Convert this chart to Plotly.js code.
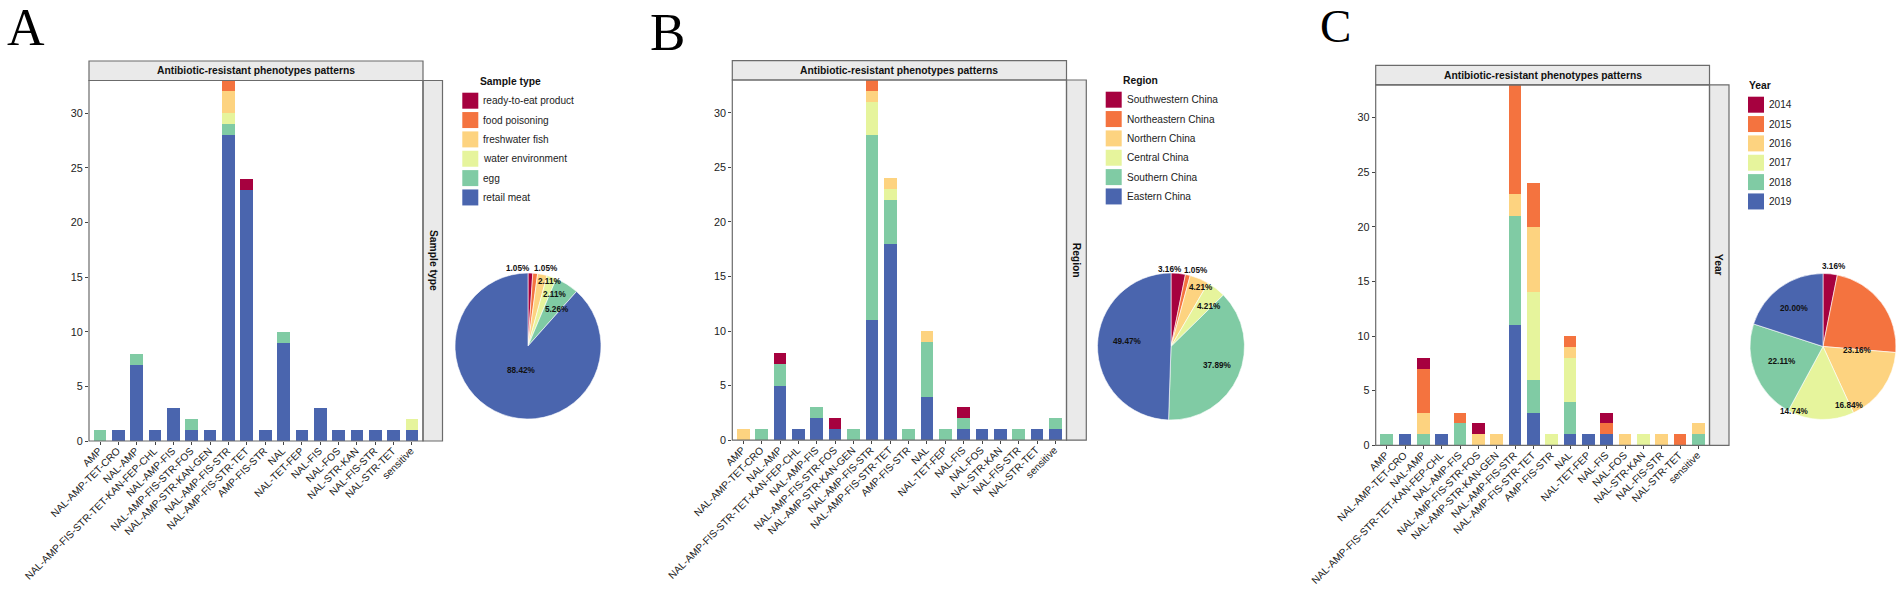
<!DOCTYPE html>
<html><head><meta charset="utf-8">
<script src="https://cdn.plot.ly/plotly-3.0.1.min.js"></script>
<style>html,body{margin:0;padding:0;background:#fff;overflow:hidden}#c{width:1902px;height:593px}</style>
</head><body><div id="c"></div>
<script>
// ---------- DATA ----------
const categories = ["AMP","NAL-AMP-TET-CRO","NAL-AMP","NAL-AMP-FIS-STR-TET-KAN-FEP-CHL","NAL-AMP-FIS","NAL-AMP-FIS-STR-FOS","NAL-AMP-STR-KAN-GEN","NAL-AMP-FIS-STR","NAL-AMP-FIS-STR-TET","AMP-FIS-STR","NAL","NAL-TET-FEP","NAL-FIS","NAL-FOS","NAL-STR-KAN","NAL-FIS-STR","NAL-STR-TET","sensitive"];
const yTicks = [0,5,10,15,20,25,30];

const sampleNames = ["ready-to-eat product","food poisoning","freshwater fish","water environment","egg","retail meat"];
const readyToEat   = [0,0,0,0,0,0,0,0,1,0,0,0,0,0,0,0,0,0];
const foodPoison   = [0,0,0,0,0,0,0,1,0,0,0,0,0,0,0,0,0,0];
const freshFish    = [0,0,0,0,0,0,0,2,0,0,0,0,0,0,0,0,0,0];
const waterEnv     = [0,0,0,0,0,0,0,1,0,0,0,0,0,0,0,0,0,1];
const egg          = [1,0,1,0,0,1,0,1,0,0,1,0,0,0,0,0,0,0];
const retailMeat   = [0,1,7,1,3,1,1,28,23,1,9,1,3,1,1,1,1,1];

const regionNames = ["Southwestern China","Northeastern China","Northern China","Central China","Southern China","Eastern China"];
const southwestern = [0,0,1,0,0,1,0,0,0,0,0,0,1,0,0,0,0,0];
const northeastern = [0,0,0,0,0,0,0,1,0,0,0,0,0,0,0,0,0,0];
const northern     = [1,0,0,0,0,0,0,1,1,0,1,0,0,0,0,0,0,0];
const central      = [0,0,0,0,0,0,0,3,1,0,0,0,0,0,0,0,0,0];
const southern     = [0,1,2,0,1,0,1,17,4,1,5,1,1,0,0,1,0,1];
const eastern      = [0,0,5,1,2,1,0,11,18,0,4,0,1,1,1,0,1,1];

const yearNames = ["2014","2015","2016","2017","2018","2019"];
const y2014 = [0,0,1,0,0,1,0,0,0,0,0,0,1,0,0,0,0,0];
const y2015 = [0,0,4,0,1,0,0,10,4,0,1,0,1,0,0,0,1,0];
const y2016 = [0,0,2,0,0,1,1,2,6,0,1,0,0,1,0,1,0,1];
const y2017 = [0,0,0,0,0,0,0,0,8,1,4,0,0,0,1,0,0,0];
const y2018 = [1,0,1,0,2,0,0,10,3,0,3,0,0,0,0,0,0,1];
const y2019 = [0,1,0,1,0,0,0,11,3,0,1,1,1,0,0,0,0,0];

const palette = ["#A6013F","#F4733F","#FDD380","#E6F49C","#80CBA4","#4A65AE"];

// ---------- LAYOUT GEOMETRY (pixels) ----------
const W = 1902, H = 593, FONT = "Liberation Sans, Arial, sans-serif";
const px = x => x / W, py = y => 1 - y / H;
const panels = [
  {letter:"A", lx:6,    ly:46, letterSize:52, left:89,    right:423,  stripTop:61,   top:80.5, bottom:441,  sideRight:442.5, legendTitle:"Sample type", titleDx:16.4, names:sampleNames,
   series:[readyToEat,foodPoison,freshFish,waterEnv,egg,retailMeat], swX:462.3, swY:92.7, cx:528, cy:346, r:73,
   labelPos:[[518,268],[546,268],[549,281.5],[554,294.7],[556.5,309],[520.5,370.7]]},
  {letter:"B", lx:649,  ly:50, letterSize:53, left:732.3, right:1066.5,stripTop:60.7, top:80,   bottom:440.2,sideRight:1086.3,legendTitle:"Region", titleDx:16.4, names:regionNames,
   series:[southwestern,northeastern,northern,central,southern,eastern], swX:1105.7, swY:91.7, cx:1171, cy:346.5, r:73.5,
   labelPos:[[1170,269.3],[1196.3,270.3],[1201.3,287.3],[1209,306.3],[1217,365],[1127.3,341]]},
  {letter:"C", lx:1319, ly:42.5, letterSize:47, left:1375.7,right:1709.5,stripTop:65.3, top:84.9, bottom:445.3,sideRight:1729, legendTitle:"Year", titleDx:0, names:yearNames,
   series:[y2014,y2015,y2016,y2017,y2018,y2019], swX:1748, swY:96.7, cx:1823, cy:346.5, r:73,
   labelPos:[[1834,266],[1857,350],[1849,405],[1794,411],[1782,362],[1794,308]]}
];

const traces = [], shapes = [], annotations = [], layout = {};
const text = (x,y,t,o={}) => annotations.push(Object.assign({xref:"paper",yref:"paper",x:px(x),y:py(y),text:t,showarrow:false,xanchor:"center",yanchor:"middle",borderpad:0,
  font:{family:FONT,size:o.size||10.5,color:o.color||"#111"}},o.extra||{}));
const rect = (x0,y0,x1,y1,fill,line) => shapes.push({type:"rect",xref:"paper",yref:"paper",x0:px(x0),x1:px(x1),y0:py(y0),y1:py(y1),fillcolor:fill||"rgba(0,0,0,0)",line:line||{width:0},layer:"above"});
const border = {color:"#6b6b6b",width:1.2};

panels.forEach((p,i) => {
  const s = i ? String(i+1) : "";
  // stacked bars, bottom series first
  for (let k = p.names.length-1; k >= 0; k--) {
    traces.push({type:"bar",name:p.names[k],x:categories,y:p.series[k],xaxis:"x"+s,yaxis:"y"+s,
      marker:{color:palette[k],line:{width:0}},showlegend:false,hoverinfo:"x+y+name"});
  }
  layout["xaxis"+s] = {domain:[px(p.left),px(p.right)],anchor:"y"+s,type:"category",categoryorder:"array",categoryarray:categories,range:[-0.6,17.6],
    tickmode:"array",tickvals:categories,ticktext:categories,tickangle:-45,ticks:"outside",ticklen:3,tickwidth:1,tickcolor:"#444",ticklabelstandoff:-4,ticklabelshift:-1,
    tickfont:{family:FONT,size:10.2,color:"#222"},showgrid:false,zeroline:false,showline:false,automargin:false};
  layout["yaxis"+s] = {domain:[py(p.bottom),py(p.top)],anchor:"x"+s,range:[0,33],tickmode:"array",tickvals:yTicks,ticks:"outside",ticklen:3,tickwidth:1,tickcolor:"#444",
    tickfont:{family:FONT,size:10.8,color:"#222"},showgrid:false,zeroline:false,showline:false,automargin:false};
  // facet strips and panel frame
  rect(p.left,p.stripTop,p.right,p.top,"#EAEAEA",border);
  rect(p.right,p.top,p.sideRight,p.bottom,"#EAEAEA",border);
  rect(p.left,p.top,p.right,p.bottom,null,border);
  text((p.left+p.right)/2,(p.stripTop+p.top)/2,"<b>Antibiotic-resistant phenotypes patterns</b>",{size:10.3});
  text((p.right+p.sideRight)/2,(p.top+p.bottom)/2,"<b>"+p.legendTitle+"</b>",{size:10.3,extra:{textangle:90}});
  // panel letter
  text(p.lx,p.ly,p.letter,{size:p.letterSize,color:"#000",extra:{xanchor:"left",yanchor:"bottom",yshift:-0.22*p.letterSize,font:{family:"Liberation Serif, Times New Roman, serif",size:p.letterSize,color:"#000"}}});
  // legend
  text(p.swX+p.titleDx,p.swY-11,"<b>"+p.legendTitle+"</b>",{size:10.3,extra:{xanchor:"left"}});
  p.names.forEach((n,k) => {
    const y0 = p.swY + k*19.35;
    rect(p.swX,y0,p.swX+16,y0+16,palette[k]);
    text(p.swX+20,y0+8,n,{size:10.1,color:"#222",extra:{xanchor:"left"}});
  });
  // pie
  const totals = p.series.map(a => a.reduce((u,v)=>u+v,0));
  const all = totals.reduce((u,v)=>u+v,0);
  traces.push({type:"pie",labels:p.names,values:totals,sort:false,direction:"clockwise",rotation:0,textinfo:"none",textposition:"none",
    marker:{colors:palette,line:{color:"#ffffff",width:0.6}},showlegend:false,
    domain:{x:[px(p.cx-p.r),px(p.cx+p.r)],y:[py(p.cy+p.r),py(p.cy-p.r)]}});
  totals.forEach((t,k) => {
    text(p.labelPos[k][0],p.labelPos[k][1],"<b>"+(t/all*100).toFixed(2)+"%</b>",{size:8.2,color:"#111"});
  });
});

Object.assign(layout,{width:W,height:H,margin:{l:0,r:0,t:0,b:0,pad:0},autosize:false,paper_bgcolor:"#fff",plot_bgcolor:"#fff",
  barmode:"stack",bargap:0.31,showlegend:false,shapes,annotations,font:{family:FONT}});
Plotly.newPlot("c",traces,layout,{displayModeBar:false,responsive:false});
</script></body></html>
